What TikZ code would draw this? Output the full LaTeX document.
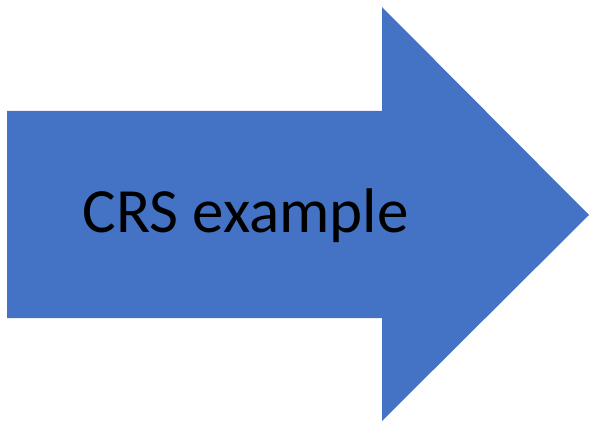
\documentclass[tikz,border=0pt]{standalone}
\usepackage{fontspec}
\setmainfont{Carlito}
\definecolor{officeblue}{HTML}{4472C4}
\begin{document}
\begin{tikzpicture}[x=1pt,y=1pt,
  arrowshape/.style={fill=officeblue,draw=none},
  label/.style={font=\fontsize{63}{70}\selectfont,text=black,inner sep=0pt}]
\useasboundingbox (0,0) rectangle (590,424);
\fill[arrowshape] (7,313) -- (382,313) -- (382,417) -- (589,209) -- (382,3) -- (382,106) -- (7,106) -- cycle;
\node[label,anchor=base] (t) at (245.5,191) {CRS example};
\end{tikzpicture}
\end{document}
